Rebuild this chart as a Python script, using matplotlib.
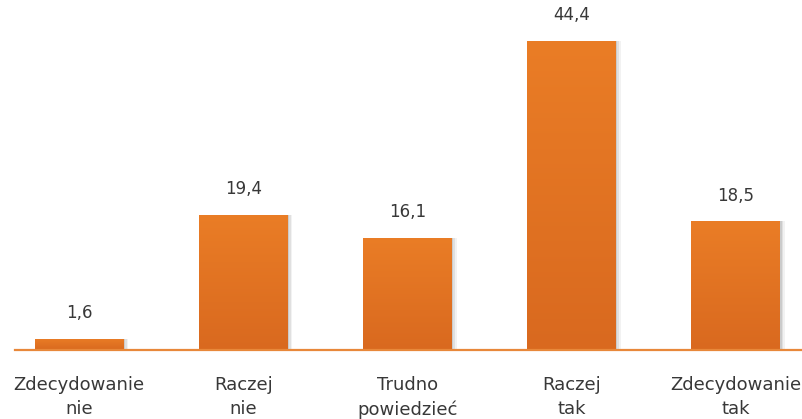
import matplotlib
matplotlib.use("Agg")
import matplotlib.pyplot as plt
import numpy as np
from matplotlib.colors import LinearSegmentedColormap

categories = ["Zdecydowanie\nnie", "Raczej\nnie", "Trudno\npowiedzieć", "Raczej\ntak", "Zdecydowanie\ntak"]
values = [1.6, 19.4, 16.1, 44.4, 18.5]
value_labels = ["1,6", "19,4", "16,1", "44,4", "18,5"]

plt.rcParams['font.family'] = ['DejaVu Sans']

W, H = 803, 419
fig = plt.figure(figsize=(W / 100, H / 100), dpi=100)
ax = fig.add_axes([15 / W, 69 / H, (803 - 15) / W, 309 / H])
ax.axis('off')

x = np.arange(len(values))
bw = 0.54
# soft shadow
for k, a in [(0.03, 0.05), (0.02, 0.07), (0.01, 0.09)]:
    ax.bar(x + k, values, width=bw, color='black', alpha=a, zorder=1, linewidth=0)

bars = ax.bar(x, values, width=bw, color='#E87A25', zorder=2, linewidth=0)
grad = np.linspace(0, 1, 256).reshape(-1, 1)
cmap = LinearSegmentedColormap.from_list('o', ['#D9691F', '#EA7D26'])
for b in bars:
    x0, y0 = b.get_x(), b.get_y()
    im = ax.imshow(grad, extent=[x0, x0 + b.get_width(), y0, y0 + b.get_height()],
                   origin='lower', cmap=cmap, aspect='auto', zorder=3)
    im.set_clip_path(b)

ax.axhline(0, color='#E8883A', lw=1.6, zorder=4, clip_on=False)
ax.set_xlim(-0.39, 4.41)
ax.set_ylim(0, 44.4)

for xi, v, lab in zip(x, values, value_labels):
    ax.annotate(lab, (xi, v), xytext=(0, 12), textcoords='offset points',
                ha='center', va='bottom', fontsize=12, color='#383838', clip_on=False)

for xi, c in zip(x, categories):
    ax.annotate(c, (xi, 0), xytext=(0, -19), textcoords='offset points',
                ha='center', va='top', fontsize=13, color='#383838',
                linespacing=1.4, clip_on=False)

fig.savefig('out.png', dpi=100)
